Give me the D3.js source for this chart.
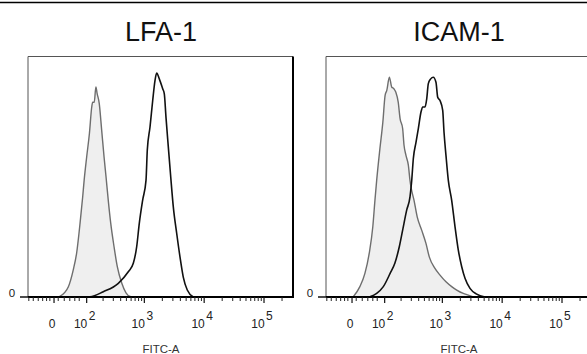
<!DOCTYPE html>
<html>
<head>
<meta charset="utf-8">
<script src="https://cdn.jsdelivr.net/npm/d3@7"></script>
<style>
  body { margin: 0; background: #fff; }
  svg { display: block; font-family: 'Liberation Sans', Arial, sans-serif; }
</style>
</head>
<body>
<svg></svg>
<script>
// Panel titles
const panelTitles = ['LFA-1', 'ICAM-1']

// Axis ticks (FITC-A, biexponential display)
const majorTicks = [0, 100, 1000, 10000, 100000]
const minorTicks = [-70, -55, -40, -28, -18, -10, 10, 25, 40, 55, 70,
  200, 300, 400, 500, 600, 700, 800, 900,
  2000, 3000, 4000, 5000, 6000, 7000, 8000, 9000,
  20000, 30000, 40000, 50000, 60000, 70000, 80000, 90000,
  200000]

// LFA-1: isotype control (grey, filled) and stained (black)
const lfaIsoValues = [10, 14, 36, 50, 61, 73, 83, 89, 100, 113, 125, 130, 139, 149, 157, 171, 189, 208, 225, 246, 271, 309, 351, 417, 492, 575, 650]
const lfaIsoCounts = [0, 0.3, 4.3, 11.2, 18.3, 30.7, 41.6, 48.5, 58.2, 68, 79, 81, 81, 87.3, 84.6, 80.5, 69.3, 58.2, 50, 40.2, 30.7, 20.9, 12.6, 5.8, 1.7, 0.2, 0]
const lfaStainValues = [60, 116, 202, 365, 538, 653, 744, 823, 936, 1066, 1120, 1244, 1380, 1507, 1609, 1779, 2027, 2158, 2300, 2517, 2760, 3050, 3478, 3943, 4476, 5220, 6578]
const lfaStainCounts = [0, 0.1, 2.2, 5.7, 10.5, 14, 20.9, 30.6, 40.2, 48.5, 61, 70.7, 81.7, 90, 93.1, 90.7, 86.6, 84.5, 74.8, 62.4, 50, 37.5, 26.4, 16.7, 8.3, 2.9, 0]

// ICAM-1: isotype control (grey, filled) and stained (black)
const icamIsoValues = [3, 19, 32, 44, 55, 62, 68, 80, 92, 102, 110, 123, 136, 149, 161, 178, 192, 213, 225, 243, 267, 285, 296, 334, 378, 450, 531, 604, 752, 914, 1150, 1433, 1739, 2240, 2716, 3292]
const icamIsoCounts = [0.1, 4.3, 9.8, 18.1, 29.2, 40.2, 48.5, 61.7, 72.7, 83.8, 85.9, 91.4, 87.3, 86.6, 85.2, 81, 74.2, 70, 63.1, 58.9, 54.8, 48.5, 45.8, 40.2, 33.3, 27.8, 22.3, 16.7, 11.9, 9.1, 6.3, 4.3, 2.9, 1.5, 0.8, 0]
const icamStainValues = [46, 68, 94, 127, 155, 186, 213, 250, 285, 305, 325, 361, 395, 438, 468, 512, 547, 582, 638, 705, 782, 836, 914, 1014, 1066, 1150, 1259, 1433, 1630, 1850, 2108, 2394, 2900, 3750, 5160]
const icamStainCounts = [0.1, 1.5, 4.3, 9.8, 14, 20.9, 27.8, 36.1, 41.6, 48.5, 57.6, 64.4, 70, 76.9, 79, 79, 82.4, 88.7, 90.7, 91.4, 89.3, 83.1, 81.7, 77.6, 68.6, 58.9, 48.5, 40.2, 29.2, 19.5, 12.6, 7.8, 3.6, 1.2, 0]

const width = 587
const height = 354
const plotTop = 56.5
const plotW = 265
const plotH = 240.5
const panelLeft = [28, 326]

const cofactor = 62
const asinhT = (v) => Math.asinh(v / cofactor)
const xDomain = [-73, 305000]

const toPoints = (values, counts) => values.map((v, i) => ({ v: v, c: counts[i] }))

const panels = [
  { title: panelTitles[0], iso: toPoints(lfaIsoValues, lfaIsoCounts), stain: toPoints(lfaStainValues, lfaStainCounts) },
  { title: panelTitles[1], iso: toPoints(icamIsoValues, icamIsoCounts), stain: toPoints(icamStainValues, icamStainCounts) }
]

const svg = d3.select('svg')
  .attr('width', width)
  .attr('height', height)

// rule across the top
svg.append('line')
  .attr('x1', 0).attr('x2', width)
  .attr('y1', 2.5).attr('y2', 2.5)
  .attr('stroke', '#000')
  .attr('stroke-width', 1.5)

const x = d3.scaleLinear()
  .domain(xDomain.map(asinhT))
  .range([0, plotW])
const fx = (v) => x(asinhT(v))

const y = d3.scaleLinear()
  .domain([0, 100])
  .range([plotH, 0])

const area = d3.area()
  .x((d) => fx(d.v))
  .y0(plotH)
  .y1((d) => y(d.c))
  .curve(d3.curveMonotoneX)

const line = d3.line()
  .x((d) => fx(d.v))
  .y((d) => y(d.c))
  .curve(d3.curveMonotoneX)

panels.forEach((p, i) => {
  const g = svg.append('g')
    .attr('transform', `translate(${panelLeft[i]}, ${plotTop})`)

  // title
  g.append('text')
    .attr('x', plotW / 2 + 0.5)
    .attr('y', -16)
    .attr('text-anchor', 'middle')
    .attr('font-size', 27)
    .attr('fill', '#111')
    .text(p.title)

  // isotype histogram
  g.append('path')
    .datum(p.iso)
    .attr('d', area)
    .attr('fill', '#efefef')

  g.append('path')
    .datum(p.iso)
    .attr('d', line)
    .attr('fill', 'none')
    .attr('stroke', '#6e6e6e')
    .attr('stroke-width', 1.4)

  // stained histogram
  g.append('path')
    .datum(p.stain)
    .attr('d', line)
    .attr('fill', 'none')
    .attr('stroke', '#111')
    .attr('stroke-width', 1.6)

  // frame: thin top / left, heavy right
  g.append('line')
    .attr('x1', 0).attr('x2', plotW)
    .attr('y1', 0).attr('y2', 0)
    .attr('stroke', '#555')
    .attr('stroke-width', 1)
  g.append('line')
    .attr('x1', 0).attr('x2', 0)
    .attr('y1', 0).attr('y2', plotH)
    .attr('stroke', '#555')
    .attr('stroke-width', 1)
  g.append('line')
    .attr('x1', plotW).attr('x2', plotW)
    .attr('y1', 0).attr('y2', plotH)
    .attr('stroke', '#000')
    .attr('stroke-width', 2)

  // x axis line
  g.append('line')
    .attr('x1', 0).attr('x2', plotW + 1)
    .attr('y1', plotH).attr('y2', plotH)
    .attr('stroke', '#000')
    .attr('stroke-width', 2)

  // minor ticks
  g.selectAll('.minor')
    .data(minorTicks)
    .enter().append('line')
    .attr('class', 'minor')
    .attr('x1', (d) => fx(d)).attr('x2', (d) => fx(d))
    .attr('y1', plotH).attr('y2', plotH + 4)
    .attr('stroke', '#222')
    .attr('stroke-width', 1)

  // major ticks
  g.selectAll('.major')
    .data(majorTicks)
    .enter().append('line')
    .attr('class', 'major')
    .attr('x1', (d) => fx(d)).attr('x2', (d) => fx(d))
    .attr('y1', plotH).attr('y2', plotH + 6)
    .attr('stroke', '#111')
    .attr('stroke-width', 1.2)

  // tick labels: 0, 10^2 ... 10^5
  const labels = g.selectAll('.tick-label')
    .data(majorTicks)
    .enter().append('text')
    .attr('class', 'tick-label')
    .attr('x', (d) => fx(d) - 2)
    .attr('y', plotH + 31)
    .attr('text-anchor', 'middle')
    .attr('font-size', 12)
    .attr('fill', '#222')
  labels.filter((d) => d === 0).text('0')
  labels.filter((d) => d > 0).each(function (d) {
    const t = d3.select(this)
    t.append('tspan').text('10')
    t.append('tspan')
      .attr('dx', 1.5)
      .attr('dy', -8)
      .text(Math.round(Math.log10(d)))
  })

  // y axis: only the zero mark
  g.append('line')
    .attr('x1', -8).attr('x2', 0)
    .attr('y1', y(0)).attr('y2', y(0))
    .attr('stroke', '#111')
    .attr('stroke-width', 1.5)
  g.append('text')
    .attr('x', -16)
    .attr('y', y(0))
    .attr('text-anchor', 'middle')
    .attr('font-size', 11.5)
    .attr('fill', '#222')
    .text('0')

  // axis title
  g.append('text')
    .attr('x', 133)
    .attr('y', plotH + 56)
    .attr('text-anchor', 'middle')
    .attr('font-size', 11.5)
    .attr('fill', '#333')
    .text('FITC-A')
})
</script>
</body>
</html>
